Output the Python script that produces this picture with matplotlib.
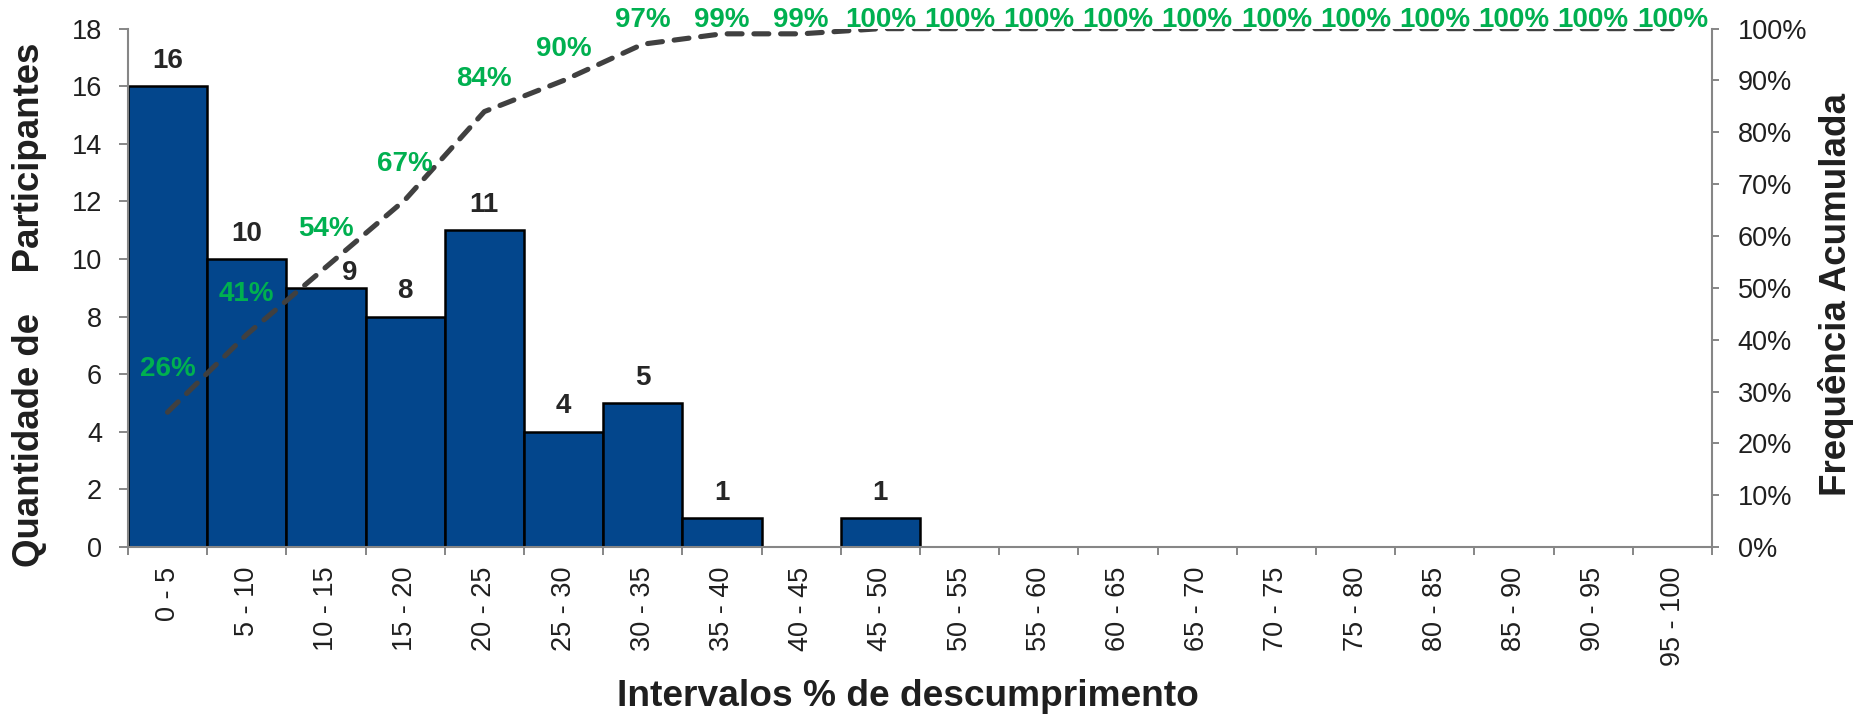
import matplotlib
matplotlib.use('Agg')
import matplotlib.pyplot as plt
from matplotlib.ticker import MultipleLocator, FuncFormatter

plt.rcParams['font.family'] = ['Liberation Sans', 'DejaVu Sans']

# intervals and counts
intervalos = ['0 - 5', '5 - 10', '10 - 15', '15 - 20', '20 - 25', '25 - 30',
              '30 - 35', '35 - 40', '40 - 45', '45 - 50', '50 - 55', '55 - 60',
              '60 - 65', '65 - 70', '70 - 75', '75 - 80', '80 - 85', '85 - 90',
              '90 - 95', '95 - 100']
participantes = [16, 10, 9, 8, 11, 4, 5, 1, 0, 1, 0, 0, 0, 0, 0, 0, 0, 0, 0, 0]
acumulada = [26, 41, 54, 67, 84, 90, 97, 99, 99, 100, 100, 100, 100, 100,
             100, 100, 100, 100, 100, 100]

bar_color = '#03468C'
green = '#00B050'
txt = '#1f1f1f'
spine_c = '#868686'

fig = plt.figure(figsize=(18.62, 7.16), dpi=100)
ax = fig.add_axes([0.0687, 0.236, 0.8508, 0.724])
x = list(range(len(intervalos)))

bars = ax.bar(x, participantes, width=1.0, color=bar_color,
              edgecolor='black', linewidth=1.8, zorder=2)
lbls = ax.bar_label(bars, labels=[str(v) if v > 0 else '' for v in participantes],
                    padding=9, fontsize=20, fontweight='bold', color='#262626')
# the "9" label was nudged aside in the original so the line doesn't cross it
lbls[2].xyann = (17, 1)

ax.set_xlim(-0.5, len(intervalos) - 0.5)
ax.set_ylim(0, 18)
ax.yaxis.set_major_locator(MultipleLocator(2))
ax.set_xticks(x)
ax.set_xticklabels(intervalos, rotation=90, fontsize=19.5, color=txt)
ax.set_xticks([i - 0.5 for i in range(len(intervalos) + 1)], minor=True)
ax.tick_params(axis='x', which='major', length=0, pad=14)
ax.tick_params(axis='x', which='minor', length=6, color=spine_c, width=1.4)
ax.tick_params(axis='y', labelsize=19.5, colors=txt, length=6.5, width=1.4,
               pad=12)
ax.tick_params(axis='y', color=spine_c)

for s in ['top', 'right']:
    ax.spines[s].set_visible(False)
for s in ['left', 'bottom']:
    ax.spines[s].set_color(spine_c)
    ax.spines[s].set_linewidth(1.5)

ax.set_ylabel('Quantidade de    Participantes', fontsize=26.4,
              fontweight='bold', color=txt, va='center')
ax.yaxis.set_label_coords(-0.0622, 0.468)
ax.set_xlabel('Intervalos % de descumprimento', fontsize=26.7,
              fontweight='bold', color=txt, va='center')
ax.xaxis.set_label_coords(0.4924, -0.289)

# cumulative frequency on secondary axis
ax2 = ax.twinx()
frac = [v / 100 for v in acumulada]
ax2.plot(x, frac, color='#404040', linewidth=3.7, linestyle=(0, (2.9, 2.3)),
         dash_capstyle='round', zorder=3)
ax2.set_ylim(0, 1)
ax2.yaxis.set_major_locator(MultipleLocator(0.1))
ax2.yaxis.set_major_formatter(FuncFormatter(lambda v, p: f'{v * 100:.0f}%'))
ax2.tick_params(axis='y', labelsize=19.5, colors=txt, length=5.3, width=1.4,
                pad=13)
ax2.tick_params(axis='y', color=spine_c)
for s in ['top', 'left', 'bottom']:
    ax2.spines[s].set_visible(False)
ax2.spines['right'].set_color(spine_c)
ax2.spines['right'].set_linewidth(1.5)

for xi, v, f in zip(x, acumulada, frac):
    ax2.text(xi, min(f + 0.093 - 0.036 * f, 1.016), f'{v}%', ha='center',
             va='center', fontsize=20, fontweight='bold', color=green,
             zorder=4, clip_on=False)

ax2.set_ylabel('Frequência Acumulada', fontsize=26.5, fontweight='bold',
               color=txt, rotation=90, va='center')
ax2.yaxis.set_label_coords(1.078, 0.4865)

fig.savefig('out.png', dpi=100)
